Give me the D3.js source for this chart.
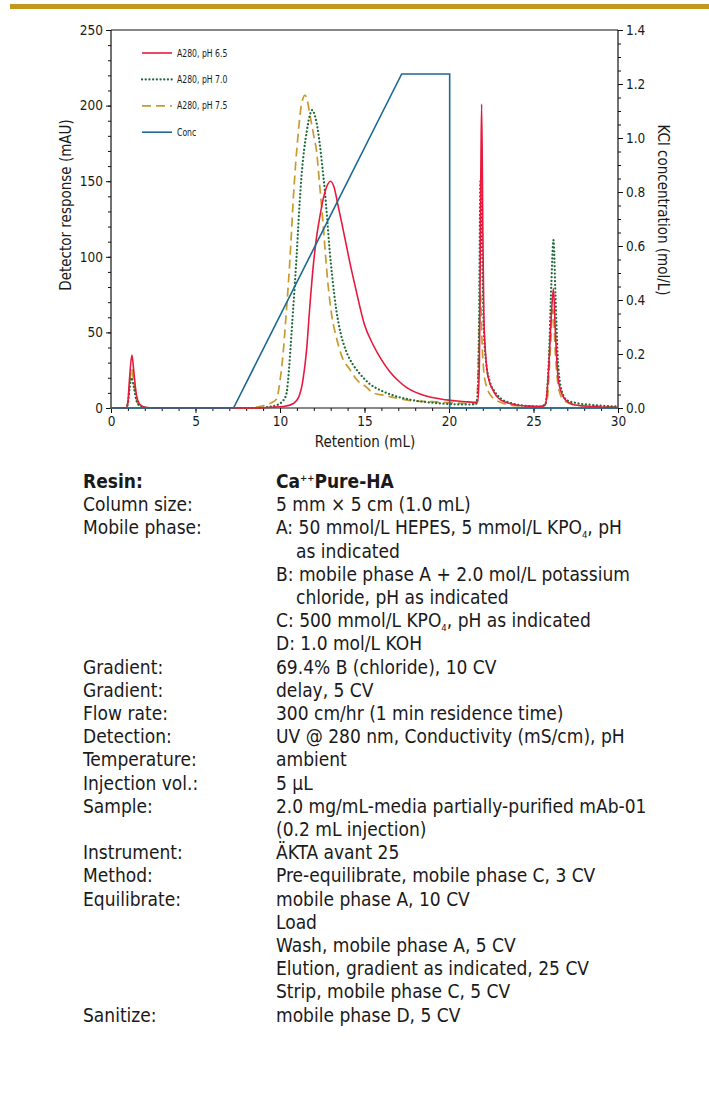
<!DOCTYPE html>
<html>
<head>
<meta charset="utf-8">
<script src="https://cdn.jsdelivr.net/npm/d3@7"></script>
<style>
  html, body { margin: 0; padding: 0; background: #fff; }
  svg { display: block; }
  text { font-family: "DejaVu Sans Condensed", "DejaVu Sans", sans-serif; fill: #1a1a1a; }
</style>
</head>
<body>
<svg id="chart" width="709" height="1103"></svg>
<script>
// ---- Chromatogram data: retention (mL) vs A280 (mAU) ----
const ret65 = [0, 0.9, 1.0, 1.1, 1.24, 1.35, 1.5, 1.7, 2.0, 2.5, 8.5, 9.5, 10.2, 10.8, 11.1, 11.35, 11.57, 11.75, 11.96, 12.15, 12.35, 12.55, 12.75, 12.98, 13.2, 13.45, 13.7, 14.1, 14.5, 15.0, 15.5, 16.0, 16.5, 17.0, 17.5, 18.0, 18.5, 19.0, 19.5, 20.0, 20.5, 21.0, 21.5, 21.7, 21.8, 21.88, 21.93, 22.0, 22.06, 22.15, 22.25, 22.4, 22.55, 22.8, 23.1, 23.6, 24.5, 25.4, 25.7, 25.88, 26.05, 26.18, 26.3, 26.47, 26.76, 27.1, 27.45, 28.5, 29.4, 30];
const a280_65 = [0, 0, 4, 20, 35, 24, 9, 2.5, 0.5, 0, 0, 0.5, 1, 3, 7, 18, 38, 65, 93, 112, 126, 138, 146, 150, 146, 133, 120, 98, 78, 55, 42, 32, 24, 18, 13.5, 10.5, 8.5, 7, 6, 5.2, 4.6, 4.1, 3.8, 4, 30, 150, 201, 120, 63, 38, 25, 17, 13, 8, 5, 3, 1.3, 1, 2, 23, 60, 79, 49, 18.5, 7.5, 3.5, 2, 1, 0.5, 0.3];

const ret70 = [0, 0.9, 1.0, 1.1, 1.22, 1.35, 1.5, 1.7, 2.0, 2.5, 8.5, 9.5, 10.0, 10.2, 10.39, 10.55, 10.68, 10.83, 10.98, 11.12, 11.27, 11.42, 11.57, 11.75, 11.9, 12.1, 12.35, 12.5, 12.65, 12.8, 12.94, 13.1, 13.33, 13.6, 13.9, 14.3, 14.7, 15.3, 15.9, 16.8, 17.8, 19.0, 20.0, 21.0, 21.6, 21.7, 21.78, 21.86, 21.95, 22.05, 22.2, 22.4, 22.7, 23.1, 23.6, 24.5, 25.4, 25.7, 25.9, 26.05, 26.18, 26.3, 26.45, 26.7, 27.0, 27.45, 28.5, 29.5, 30];
const a280_70 = [0, 0, 3, 13, 20, 14, 5, 1.5, 0.3, 0, 0, 1, 3, 5, 10, 28, 49, 74, 100, 128, 153, 170, 182, 193, 197, 192, 175, 160, 144, 124, 104, 86, 65, 49, 38, 29, 23, 16, 12, 8, 5.3, 3.5, 2.6, 2.3, 2.5, 10, 60, 150, 110, 55, 30, 18, 11, 6, 3.5, 1.5, 1, 2.5, 30, 80, 111, 75, 30, 10, 5, 3.5, 2, 1.2, 1];

const ret75 = [0, 0.9, 1.0, 1.1, 1.22, 1.35, 1.5, 1.7, 2.0, 2.5, 8.0, 9.0, 9.4, 9.8, 10.0, 10.2, 10.35, 10.5, 10.65, 10.78, 10.93, 11.08, 11.22, 11.37, 11.47, 11.6, 11.8, 12.0, 12.16, 12.35, 12.55, 12.7, 12.84, 13.05, 13.33, 13.7, 14.1, 14.6, 15.1, 15.5, 16.1, 17.0, 18.0, 19.0, 20.0, 21.0, 21.6, 21.7, 21.8, 21.87, 21.95, 22.05, 22.2, 22.5, 23.0, 24.0, 25.5, 25.8, 26.0, 26.15, 26.3, 26.5, 26.8, 27.5, 29.0, 30];
const a280_75 = [0, 0, 4, 16, 26, 17, 6, 1.5, 0.3, 0, 0, 1.5, 3, 6, 18, 38, 60, 83, 110, 137, 162, 182, 197, 205, 207, 204, 192, 180, 170, 147, 122, 100, 82, 62, 47, 33, 26, 18, 14, 10, 8.5, 6.4, 4.6, 4.2, 3.5, 3.1, 3, 15, 55, 75, 45, 25, 15, 8, 4, 1.5, 1, 5, 40, 65, 35, 12, 5, 2, 1, 0.8];

// ---- KCl gradient (mol/L) ----
const concRet = [0, 7.25, 17.2, 20.04, 20.04, 30];
const concKCl = [0, 0, 1.237, 1.237, 0, 0];

// ---- Axis ticks ----
const xTicks = [0, 5, 10, 15, 20, 25, 30];
const yTicks = [0, 50, 100, 150, 200, 250];
const y2Ticks = [0, 0.2, 0.4, 0.6, 0.8, 1.0, 1.2, 1.4];

const seriesNames = ["A280, pH 6.5", "A280, pH 7.0", "A280, pH 7.5", "Conc"];

// ---- Run conditions table ----
const specLabels = ["Resin:", "Column size:", "Mobile phase:", "", "", "", "", "", "Gradient:", "Gradient:", "Flow rate:", "Detection:", "Temperature:", "Injection vol.:", "Sample:", "", "Instrument:", "Method:", "Equilibrate:", "", "", "", "", "Sanitize:"];
const specValues = ["Ca^{++}Pure-HA", "5 mm × 5 cm (1.0 mL)", "A: 50 mmol/L HEPES, 5 mmol/L KPO_{4}, pH", "   as indicated", "B: mobile phase A + 2.0 mol/L potassium", "   chloride, pH as indicated", "C: 500 mmol/L KPO_{4}, pH as indicated", "D: 1.0 mol/L KOH", "69.4% B (chloride), 10 CV", "delay, 5 CV", "300 cm/hr (1 min residence time)", "UV @ 280 nm, Conductivity (mS/cm), pH", "ambient", "5 µL", "2.0 mg/mL-media partially-purified mAb-01", "(0.2 mL injection)", "ÄKTA avant 25", "Pre-equilibrate, mobile phase C, 3 CV", "mobile phase A, 10 CV", "Load", "Wash, mobile phase A, 5 CV", "Elution, gradient as indicated, 25 CV", "Strip, mobile phase C, 5 CV", "mobile phase D, 5 CV"];

const svg = d3.select("#chart");

// Gold rule across the top
svg.append("rect").attr("x", 10).attr("y", 4).attr("width", 699).attr("height", 5).attr("fill", "#C4981F");

const m = { left: 111, right: 618, top: 30, bottom: 408 };
const x = d3.scaleLinear().domain([0, 30]).range([m.left, m.right]);
const y = d3.scaleLinear().domain([0, 250]).range([m.bottom, m.top]);
const y2 = d3.scaleLinear().domain([0, 1.4]).range([m.bottom, m.top]);

const tickFont = 13.5;

// Minor + major ticks
function axisWithMinor(g, axisFn, scale, minor, major, fmt) {
  g.call(axisFn(scale).tickValues(minor).tickSize(3).tickFormat(""));
  g.call(gg => gg.selectAll(".domain").remove());
  const maj = g.append("g");
  maj.call(axisFn(scale).tickValues(major).tickSize(5).tickFormat(fmt).tickPadding(3));
  maj.selectAll(".domain").remove();
  maj.selectAll("text").attr("font-size", tickFont);
  maj.attr("font-family", null).attr("font-size", null);
  g.attr("font-family", null).attr("font-size", null);
}

const gy = svg.append("g").attr("transform", `translate(${m.left},0)`);
axisWithMinor(gy, d3.axisLeft, y, d3.range(0, 251, 10), yTicks, d3.format("d"));
const gy2 = svg.append("g").attr("transform", `translate(${m.right},0)`);
axisWithMinor(gy2, d3.axisRight, y2, d3.range(0, 1.4001, 0.05), y2Ticks, d3.format(".1f"));
const gx = svg.append("g").attr("transform", `translate(0,${m.bottom})`);
axisWithMinor(gx, d3.axisBottom, x, d3.range(0, 31, 1), xTicks, d3.format("d"));

svg.selectAll(".tick line").attr("stroke", "#111");

// frame
const frame = [[m.left, m.top, m.right, m.top], [m.left, m.top, m.left, m.bottom], [m.right, m.top, m.right, m.bottom], [m.left, m.bottom, m.right, m.bottom]];
frame.forEach(f => svg.append("line").attr("x1", f[0]).attr("y1", f[1]).attr("x2", f[2]).attr("y2", f[3])
  .attr("stroke", "#111").attr("stroke-width", 1.2));

// axis titles
svg.append("text").attr("transform", `translate(71,205) rotate(-90)`)
  .attr("text-anchor", "middle").attr("font-size", 15).text("Detector response (mAU)");
svg.append("text").attr("transform", `translate(658,210) rotate(90)`)
  .attr("text-anchor", "middle").attr("font-size", 15).text("KCl concentration (mol/L)");
svg.append("text").attr("x", 365).attr("y", 447)
  .attr("text-anchor", "middle").attr("font-size", 15).text("Retention (mL)");

// data lines
const line = d3.line().x(d => x(d[0])).y(d => y(d[1])).curve(d3.curveMonotoneX);
const concLine = d3.line().x(d => x(d[0])).y(d => y2(d[1]));

const styles = [
  { color: "#E8193C", dash: null, cap: "butt", width: 1.6 },
  { color: "#1F6B3A", dash: "0.1 3.6", cap: "round", width: 2.2 },
  { color: "#C89B2E", dash: "9 5", cap: "butt", width: 1.7 },
  { color: "#1C6991", dash: null, cap: "butt", width: 1.6 }
];

const plot = svg.append("g");
const series = [d3.zip(ret65, a280_65), d3.zip(ret70, a280_70), d3.zip(ret75, a280_75)];
[2, 1, 0].forEach(i => {
  plot.append("path").datum(series[i]).attr("d", line)
    .attr("fill", "none").attr("stroke", styles[i].color).attr("stroke-width", styles[i].width)
    .attr("stroke-dasharray", styles[i].dash).attr("stroke-linecap", styles[i].cap)
    .attr("stroke-linejoin", "round");
});
plot.append("path").datum(d3.zip(concRet, concKCl)).attr("d", concLine)
  .attr("fill", "none").attr("stroke", styles[3].color).attr("stroke-width", styles[3].width);

// legend
const lg = svg.append("g");
seriesNames.forEach((name, i) => {
  const ly = 53 + i * 26.4;
  lg.append("line").attr("x1", 142).attr("x2", 172).attr("y1", ly).attr("y2", ly)
    .attr("stroke", styles[i].color).attr("stroke-width", styles[i].width)
    .attr("stroke-dasharray", styles[i].dash).attr("stroke-linecap", styles[i].cap);
  lg.append("text").attr("x", 177).attr("y", ly + 3.6).attr("font-size", 10)
    .attr("transform", `translate(177,0) scale(0.86,1) translate(-177,0)`).text(name);
});

// run conditions table
const t0 = 488, lh = 23.2, col1 = 83, col2 = 276, tfs = 19;
const tbl = svg.append("g");
function richText(sel, str, yy) {
  // ^{..} superscript, _{..} subscript
  const parts = str.split(/(\^\{[^}]*\}|_\{[^}]*\})/).filter(s => s.length);
  parts.forEach(p => {
    if (p.startsWith("^{")) {
      sel.append("tspan").attr("y", yy - 7).attr("font-size", tfs * 0.5).text(p.slice(2, -1));
    } else if (p.startsWith("_{")) {
      sel.append("tspan").attr("y", yy + 4).attr("font-size", tfs * 0.5).text(p.slice(2, -1));
    } else {
      sel.append("tspan").attr("y", yy).text(p);
    }
  });
}
specValues.forEach((v, i) => {
  const yy = t0 + i * lh;
  if (specLabels[i]) {
    tbl.append("text").attr("x", col1).attr("y", yy).attr("font-size", tfs)
      .attr("font-weight", i === 0 ? "bold" : "normal").text(specLabels[i]);
  }
  const indent = v.startsWith("   ");
  const t = tbl.append("text").attr("x", col2 + (indent ? 20 : 0)).attr("y", yy).attr("font-size", tfs)
    .attr("font-weight", i === 0 ? "bold" : "normal");
  richText(t, v.trim(), yy);
});
</script>
</body>
</html>
